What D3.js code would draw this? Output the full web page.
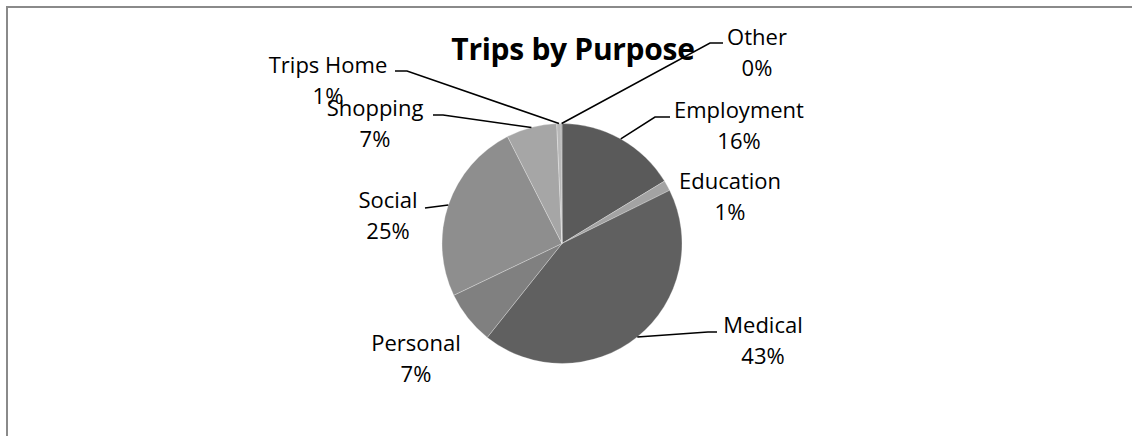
<!DOCTYPE html>
<html>
<head>
<meta charset="utf-8">
<script src="https://cdn.jsdelivr.net/npm/d3@7"></script>
<style>
  html, body { margin: 0; padding: 0; background: #fff; }
  svg { display: block; }
  text { font-family: "Open Sans", Lato, sans-serif; fill: #000; }
</style>
</head>
<body>
<svg id="chart" width="1132" height="436"></svg>
<script>
// Trip purposes, clockwise from 12 o'clock
const categories = ["Employment", "Education", "Medical", "Personal", "Social", "Shopping", "Trips Home", "Other"];
const shares = [16.3, 1.4, 43.0, 7.2, 24.6, 6.8, 0.6, 0.1];
const sliceColors = ["#5a5a5a", "#a3a3a3", "#606060", "#808080", "#8e8e8e", "#a6a6a6", "#b8b8b8", "#7a7a7a"];

// Label placement: text centre x, first baseline y, and where the leader line starts
const labelLayout = {
  "Employment": { x: 739, y: 118, lead: [670, 117, 655, 117] },
  "Education":  { x: 730, y: 189, lead: null },
  "Medical":    { x: 763, y: 333, lead: [717, 332, 708, 332] },
  "Personal":   { x: 416, y: 351, lead: null },
  "Social":     { x: 388, y: 208, lead: [425, 208, 425, 208] },
  "Shopping":   { x: 375, y: 116, lead: [433, 115, 443, 115] },
  "Trips Home": { x: 328, y: 73,  lead: [395, 71, 407, 71] },
  "Other":      { x: 757, y: 45,  lead: [723, 43, 710, 43] }
};

const svg = d3.select("#chart");
const cx = 562, cy = 243.5, r = 120;

// chart area frame
svg.append("rect")
  .attr("x", 7).attr("y", 7)
  .attr("width", 1140).attr("height", 450)
  .attr("fill", "none").attr("stroke", "#8a8a8a").attr("stroke-width", 2);

const data = categories.map((c, i) => ({ name: c, value: shares[i], color: sliceColors[i] }));
const total = d3.sum(shares);

const pie = d3.pie().value(d => d.value).sort(null);
const arcs = pie(data);
const arc = d3.arc().innerRadius(0).outerRadius(r);
const edge = d3.arc().innerRadius(r).outerRadius(r);

const g = svg.append("g").attr("transform", `translate(${cx},${cy})`);
g.selectAll("path.slice")
  .data(arcs)
  .join("path")
  .attr("class", "slice")
  .attr("d", arc)
  .attr("fill", d => d.data.color)
  .attr("stroke", "#ffffff")
  .attr("stroke-opacity", 0.45)
  .attr("stroke-width", 0.6);

// leader lines from the label to the middle of each slice's rim
const leaders = svg.append("g");
arcs.forEach(a => {
  const L = labelLayout[a.data.name];
  if (!L.lead) return;
  const [ex, ey] = edge.centroid(a);
  const pts = [[L.lead[0], L.lead[1]], [L.lead[2], L.lead[3]], [cx + ex, cy + ey]];
  leaders.append("path")
    .attr("d", d3.line()(pts))
    .attr("fill", "none")
    .attr("stroke", "#000")
    .attr("stroke-width", 1.5);
});

// data labels: name and rounded percentage
const labels = svg.append("g").attr("font-size", 22).attr("text-anchor", "middle");
arcs.forEach(a => {
  const L = labelLayout[a.data.name];
  const t = labels.append("text").attr("x", L.x).attr("y", L.y);
  t.append("tspan").attr("x", L.x).text(a.data.name);
  t.append("tspan").attr("x", L.x).attr("dy", 31)
    .text(Math.round(a.data.value / total * 100) + "%");
});

svg.append("text")
  .attr("x", 573).attr("y", 60)
  .attr("text-anchor", "middle")
  .attr("font-size", 30)
  .attr("font-weight", "bold")
  .attr("letter-spacing", -0.3)
  .text("Trips by Purpose");
</script>
</body>
</html>
